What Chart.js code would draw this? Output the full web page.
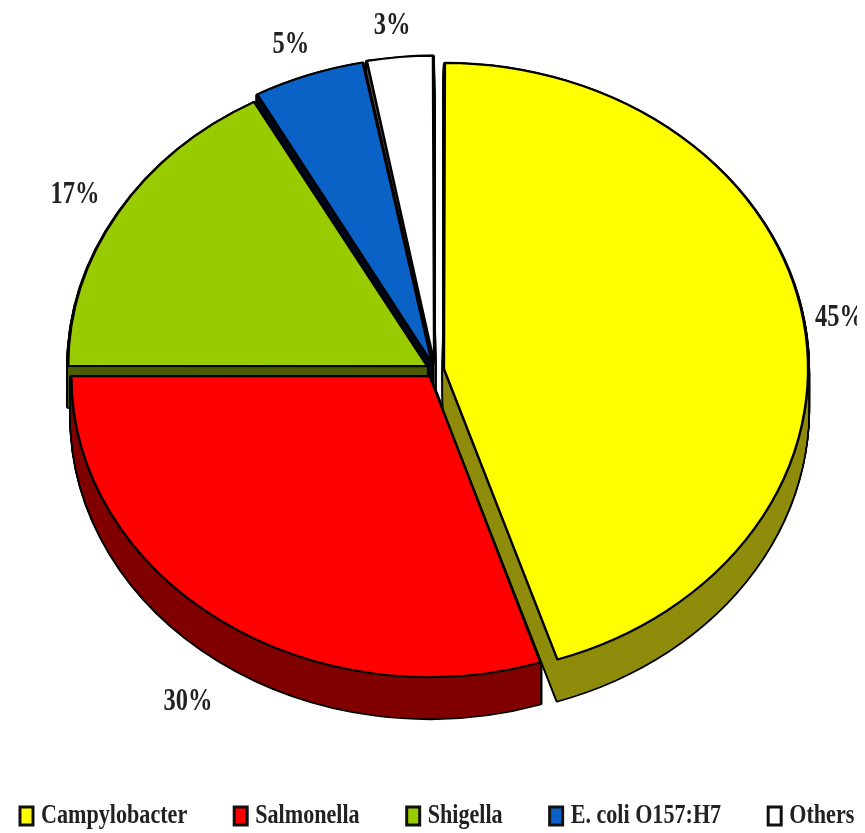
<!DOCTYPE html>
<html>
<head>
    <meta charset="utf-8"/>
    <title></title>
    <script src="https://cdn.jsdelivr.net/npm/chart.js"></script>
    <style>
      body { margin: 0; background: #fff; }
      canvas { filter: blur(0.6px); }
    </style>
</head>
<body>
    <canvas id="pieChart" width="865" height="833"></canvas>

    <script type="text/javascript">
      const categories = ['Campylobacter', 'Salmonella', 'Shigella', 'E. coli O157:H7', 'Others'];
      const shares = [45, 30, 17, 5, 3];
      const sliceColors = ['#ffff00', '#ff0000', '#99cc00', '#0b62c6', '#ffffff'];
      const sideColors = ['#8f8c0c', '#800000', '#4c5c00', '#00081c', '#505050'];

      const CENTER_X = 435, CENTER_Y = 370;
      const SQUASH = 0.84;    // pie is drawn as an ellipse
      const DEPTH = 41;       // height of the side wall, px on screen
      const LABEL_FACTOR = 1.155;
      const TEXT_COLOR = '#222';
      const TEXT_NARROW = 0.79;  // the source text is tall and narrow

      // Draw one arc with temporary options, the arc element does the path
      function drawArcWith(arc, ctx, overrides) {
        const saved = arc.options;
        arc.options = Object.assign(Object.create(saved), overrides);
        arc.draw(ctx);
        arc.options = saved;
      }

      function drawPercentLabels(chart) {
        const ctx = chart.ctx;
        const arcs = chart.getDatasetMeta(0).data;
        ctx.save();
        ctx.beginPath();
        ctx.rect(0, 0, 857, 833);
        ctx.clip();
        ctx.fillStyle = TEXT_COLOR;
        ctx.font = 'bold 31px "Liberation Serif"';
        ctx.textAlign = 'center';
        ctx.textBaseline = 'middle';
        arcs.forEach((arc, i) => {
          const mid = (arc.startAngle + arc.endAngle) / 2;
          const r = arc.outerRadius * LABEL_FACTOR;
          const x = CENTER_X - 4 + Math.cos(mid) * r;
          let y = CENTER_Y + 2 + Math.sin(mid) * r * SQUASH;
          if (Math.sin(mid) > 0.5) y += DEPTH + 8;
          ctx.save();
          ctx.translate(x, y);
          ctx.scale(TEXT_NARROW, 1);
          ctx.fillText(shares[i] + '%', 0, 0);
          ctx.restore();
        });
        ctx.restore();
      }

      // Legend row along the bottom, built from the categories
      function drawLegendRow(chart) {
        const ctx = chart.ctx;
        let x = 20;
        const y = 816;
        ctx.save();
        ctx.font = 'bold 28px "Liberation Serif"';
        ctx.textBaseline = 'middle';
        categories.forEach((name, i) => {
          ctx.fillStyle = sliceColors[i];
          ctx.strokeStyle = '#111';
          ctx.lineWidth = 3;
          ctx.fillRect(x, y - 9, 13, 18);
          ctx.strokeRect(x, y - 9, 13, 18);
          x += 21;
          const w = ctx.measureText(name).width * TEXT_NARROW;
          ctx.save();
          ctx.translate(x, y);
          ctx.scale(TEXT_NARROW, 1);
          ctx.fillStyle = TEXT_COLOR;
          ctx.fillText(name, 0, 0);
          ctx.restore();
          x += w + 47;
        });
        ctx.restore();
      }

      const pieDepthPlugin = {
        id: 'pieDepth',
        beforeDatasetsDraw(chart) {
          const ctx = chart.ctx;
          const arcs = chart.getDatasetMeta(0).data;
          ctx.save();
          ctx.translate(CENTER_X, CENTER_Y);
          ctx.scale(1, SQUASH);
          ctx.translate(-arcs[0].x, -arcs[0].y);

          // back slices first, front slices last
          [4, 3, 2, 1, 0].forEach(i => {
            const arc = arcs[i];
            const steps = Math.round(DEPTH / SQUASH);
            for (let k = steps; k >= 1; k--) {
              ctx.save();
              ctx.translate(0, k);
              drawArcWith(arc, ctx, { backgroundColor: '#000', borderColor: '#000', borderWidth: 4 });
              ctx.restore();
            }
            for (let k = steps; k >= 1; k--) {
              ctx.save();
              ctx.translate(0, k);
              drawArcWith(arc, ctx, { backgroundColor: sideColors[i], borderWidth: 0 });
              ctx.restore();
            }
          });
        },
        afterDatasetsDraw(chart) {
          chart.ctx.restore();
          drawPercentLabels(chart);
          drawLegendRow(chart);
        }
      };

      new Chart(document.getElementById('pieChart').getContext('2d'), {
        type: 'pie',
        data: {
          labels: categories,
          datasets: [{
            data: shares,
            backgroundColor: sliceColors,
            borderColor: '#000',
            borderWidth: 2.5,
            borderJoinStyle: 'round',
            offset: 36,       // arc moves by a quarter of this
            radius: 358,
            clip: false
          }]
        },
        options: {
          responsive: false,
          animation: false,
          plugins: {
            tooltip: { enabled: false },
            legend: { display: false }
          }
        },
        plugins: [pieDepthPlugin]
      });
    </script>
</body>
</html>
